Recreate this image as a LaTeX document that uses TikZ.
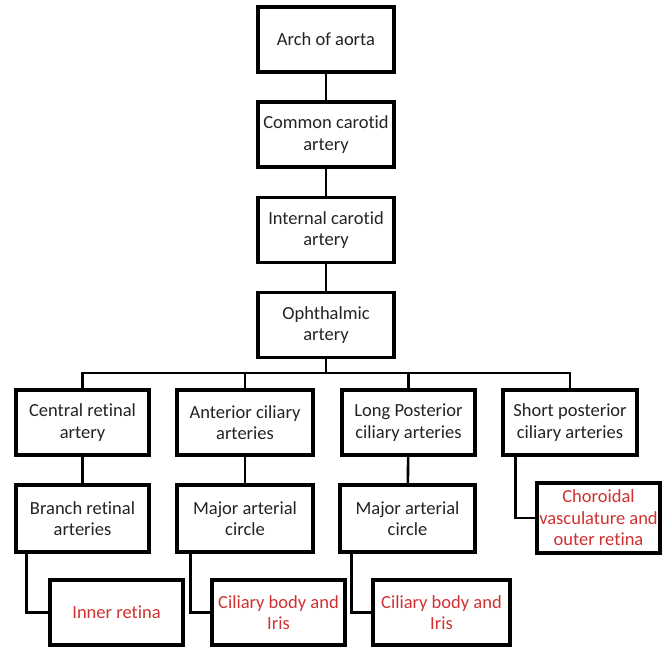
\documentclass[tikz,border=0pt]{standalone}
\usepackage{fontspec}
\setmainfont{Carlito}[Ligatures=NoCommon]
\definecolor{boxtext}{RGB}{35,35,35}
\definecolor{endred}{RGB}{208,48,48}

\begin{document}
\begin{tikzpicture}[x=1pt,y=-1pt,
    artbox/.style={draw, line width=3.4pt, align=center, minimum width=134pt,
      minimum height=65pt, inner sep=1pt, text=boxtext,
      font=\fontsize{18.5}{21.5}\selectfont},
    endbox/.style={artbox, text=endred},
    link/.style={line width=2.6pt}]

      \useasboundingbox (0,0) rectangle (662,648);

      % Main trunk
      \node[artbox, minimum width=136pt] (arch) at (326,39.5) {Arch of aorta};
      \node[artbox, minimum width=136pt] (common) at (326,134.5) {Common carotid\\artery};
      \node[artbox, minimum width=136pt] (internal) at (326,230) {Internal carotid\\artery};
      \node[artbox, minimum width=136pt] (ophth) at (326,325) {Ophthalmic\\artery};

      % Branches of ophthalmic artery
      \node[artbox, minimum width=133pt] (central) at (82.5,422.5) {Central retinal\\artery};
      \node[artbox, minimum width=136pt] (anterior) at (245,422.5) {Anterior ciliary\\arteries};
      \node[artbox, minimum width=133pt] (longpost) at (408.5,422.5) {Long Posterior\\ciliary arteries};
      \node[artbox, minimum width=134pt] (shortpost) at (570,422.5) {Short posterior\\ciliary arteries};

      % Third row
      \node[artbox, minimum width=133pt, minimum height=67pt] (branch) at (82.5,518.5) {Branch retinal\\arteries};
      \node[artbox, minimum width=136pt, minimum height=67pt] (majorA) at (245,518.5) {Major arterial\\circle};
      \node[artbox, minimum width=135pt, minimum height=67pt] (majorB) at (407.5,518.5) {Major arterial\\circle};
      \node[endbox, minimum width=123pt, minimum height=70pt] (choroid) at (598.5,518) {Choroidal\\vasculature and\\outer retina};

      % Targets
      \node[endbox, minimum width=133pt] (inner) at (116.5,612.5) {Inner retina};
      \node[endbox, minimum width=133pt] (ciliaryA) at (278.5,612.5) {Ciliary body and\\Iris};
      \node[endbox, minimum width=137pt] (ciliaryB) at (441.5,612.5) {Ciliary body and\\Iris};

      % Connectors
      \draw[link] (arch) -- (common);
      \draw[link] (common) -- (internal);
      \draw[link] (internal) -- (ophth);

      \coordinate (bus) at (326,373);
      \draw[link] (ophth) -- (bus);
      \draw[link] (central.north) |- (bus) -| (shortpost.north);
      \draw[link] (anterior.north) -- (anterior.north |- bus);
      \draw[link] (longpost.north) -- (longpost.north |- bus);

      \draw[link] (central) -- (branch);
      \draw[link] (anterior) -- (majorA);
      \draw[link] (longpost) -- (majorB);

      \draw[link] ([xshift=14pt]shortpost.south west) |- (choroid.west);
      \draw[link] ([xshift=12pt]branch.south west) |- (inner.west);
      \draw[link] ([xshift=15pt]majorA.south west) |- (ciliaryA.west);
      \draw[link] ([xshift=13pt]majorB.south west) |- (ciliaryB.west);

\end{tikzpicture}
\end{document}
